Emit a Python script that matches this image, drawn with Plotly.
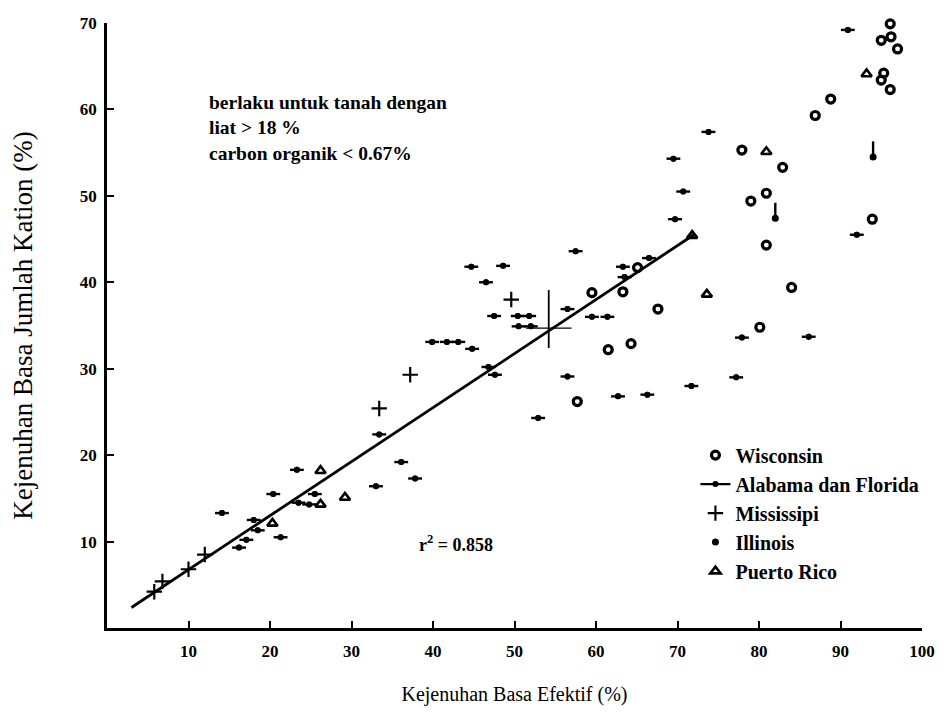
import plotly.graph_objects as go

# Kejenuhan basa efektif (x, %) vs kejenuhan basa jumlah kation (y, %)
wis_x = [96.1, 95.0, 96.2, 97.0, 95.3, 95.0, 96.1, 88.8, 86.9, 77.9, 82.9, 80.9, 79.0,
         93.9, 80.9, 84.0, 67.6, 80.1, 64.3, 61.5, 63.3, 59.5, 65.1, 57.7]
wis_y = [69.9, 68.0, 68.4, 67.0, 64.2, 63.4, 62.3, 61.2, 59.3, 55.3, 53.3, 50.3, 49.4,
         47.3, 44.3, 39.4, 36.9, 34.8, 32.9, 32.2, 38.9, 38.8, 41.7, 26.2]

ala_x = [14.1, 16.2, 17.1, 18.0, 18.5, 21.3, 20.4, 23.3, 25.5, 24.8, 23.5, 33.4, 33.0,
         36.1, 37.8, 39.9, 41.7, 43.1, 44.8, 44.7, 48.6, 46.5, 47.5, 50.4, 51.8, 50.5,
         52.0, 46.8, 47.6, 52.9, 56.5, 57.5, 59.5, 61.4, 56.5, 63.3, 63.5, 66.5, 69.7,
         92.0, 77.9, 86.1, 77.2, 71.7, 66.3, 62.7, 73.8, 69.5, 70.7, 90.9]
ala_y = [13.3, 9.3, 10.2, 12.5, 11.3, 10.5, 15.5, 18.3, 15.5, 14.3, 14.5, 22.4, 16.4,
         19.2, 17.3, 33.1, 33.1, 33.1, 32.3, 41.8, 41.9, 40.0, 36.1, 36.1, 36.1, 34.9,
         34.9, 30.2, 29.3, 24.3, 29.1, 43.6, 36.0, 36.0, 36.9, 41.8, 40.6, 42.8, 47.3,
         45.5, 33.6, 33.7, 29.0, 28.0, 27.0, 26.8, 57.4, 54.3, 50.5, 69.2]

mis_x = [5.8, 6.8, 10.0, 12.0, 33.4, 37.2, 49.6]
mis_y = [4.2, 5.4, 6.8, 8.5, 25.4, 29.3, 38.0]

ill_x = [94.0, 82.0]
ill_y = [54.5, 47.4]

pr_x = [93.2, 80.9, 71.8, 73.6, 20.3, 26.2, 26.2, 29.2]
pr_y = [64.1, 55.1, 45.4, 38.6, 12.1, 18.2, 14.3, 15.1]

# fitted line y = a + b*x and the mean point
fit_a, fit_b = 0.5, 0.625
fit_x = [3.0, 72.0]
mean_x, mean_y = 54.2, 34.7

ink = "black"
serif = "Liberation Serif"


def gapped(vals):
    """Separate points with None so a line-mode trace draws no connecting segments."""
    out = []
    for v in vals:
        out += [v, None]
    return out


fig = go.Figure()

# regression line
fig.add_trace(go.Scatter(
    x=fit_x, y=[fit_a + fit_b * v for v in fit_x], mode="lines",
    line=dict(color=ink, width=2.8), showlegend=False, hoverinfo="skip"))

# mean point cross
fig.add_trace(go.Scatter(
    x=[mean_x], y=[mean_y], mode="markers",
    marker=dict(size=1, color=ink),
    error_x=dict(type="data", symmetric=True, array=[2.8], width=0, thickness=1.4, color=ink),
    error_y=dict(type="data", symmetric=False, array=[4.4], arrayminus=[2.3],
                 width=0, thickness=1.8, color=ink),
    showlegend=False, hoverinfo="skip"))

fig.add_trace(go.Scatter(
    x=wis_x, y=wis_y, mode="markers", name="Wisconsin", legendgroup="a",
    marker=dict(symbol="circle-open", size=8, color=ink, line=dict(width=3.2))))

# Alabama dan Florida: dot with a short horizontal dash
fig.add_trace(go.Scatter(
    x=ala_x, y=ala_y, mode="markers", showlegend=False, legendgroup="b",
    marker=dict(symbol="circle", size=6, color=ink),
    error_x=dict(type="data", symmetric=True, array=[0.85] * len(ala_x),
                 width=0, thickness=2.4, color=ink)))
# legend key for the same series (gapped so no connecting line is drawn)
fig.add_trace(go.Scatter(
    x=gapped(ala_x), y=gapped(ala_y), mode="lines+markers", name="Alabama dan Florida",
    legendgroup="b", line=dict(color=ink, width=2.2),
    marker=dict(symbol="circle", size=6, color=ink), hoverinfo="skip"))

fig.add_trace(go.Scatter(
    x=mis_x, y=mis_y, mode="markers", name="Mississipi", legendgroup="c",
    marker=dict(symbol="cross-thin-open", size=11, color=ink, line=dict(width=2.2, color=ink))))

fig.add_trace(go.Scatter(
    x=ill_x, y=ill_y, mode="markers", name="Illinois", legendgroup="d",
    marker=dict(symbol="circle", size=7, color=ink),
    error_y=dict(type="data", symmetric=False, array=[1.8] * len(ill_x),
                 arrayminus=[0] * len(ill_x), width=0, thickness=2.4, color=ink)))

fig.add_trace(go.Scatter(
    x=pr_x, y=pr_y, mode="markers", name="Puerto Rico", legendgroup="e",
    marker=dict(symbol="triangle-up-open", size=9, color=ink, line=dict(width=2.6, color=ink))))

fig.update_traces(cliponaxis=False, selector=dict(type="scatter"))

axis_common = dict(
    showline=True, linecolor=ink, linewidth=2.6, showgrid=False, zeroline=False,
    ticks="inside", ticklen=7, tickwidth=2.4, tickcolor=ink,
    tickfont=dict(family=serif, size=17, color=ink, weight="bold"),
)

fig.update_xaxes(
    range=[0, 100], tickvals=list(range(10, 101, 10)), ticklabelstandoff=6,
    title=dict(text="Kejenuhan Basa Efektif (%)", font=dict(family=serif, size=20, color=ink),
               standoff=27),
    **axis_common)
fig.update_yaxes(
    range=[0, 70], tickvals=list(range(10, 71, 10)), ticklabelstandoff=4,
    title=dict(text="Kejenuhan Basa Jumlah Kation (%)", font=dict(family=serif, size=27, color=ink),
               standoff=40),
    **axis_common)

fig.add_annotation(
    xref="paper", yref="paper", x=0.123, y=0.89, xanchor="left", yanchor="top",
    align="left", showarrow=False,
    text="<b>berlaku untuk tanah dengan<br>liat &gt; 18 %<br>carbon organik &lt; 0.67%</b>",
    font=dict(family=serif, size=19.5, color=ink))

fig.add_annotation(
    x=38.0, y=9.8, xanchor="left", yanchor="middle", showarrow=False,
    text="<b>r<sup>2</sup> = 0.858</b>",
    font=dict(family=serif, size=18, color=ink))

fig.update_layout(
    width=947, height=714,
    margin=dict(l=107, r=17, t=23, b=80),
    paper_bgcolor="white", plot_bgcolor="white",
    showlegend=True,
    legend=dict(x=0.722, y=0.318, xanchor="left", yanchor="top",
                font=dict(family=serif, size=20, color=ink, weight="bold"),
                itemwidth=30, tracegroupgap=0, bgcolor="rgba(0,0,0,0)"),
)

fig.write_html("out.html")
